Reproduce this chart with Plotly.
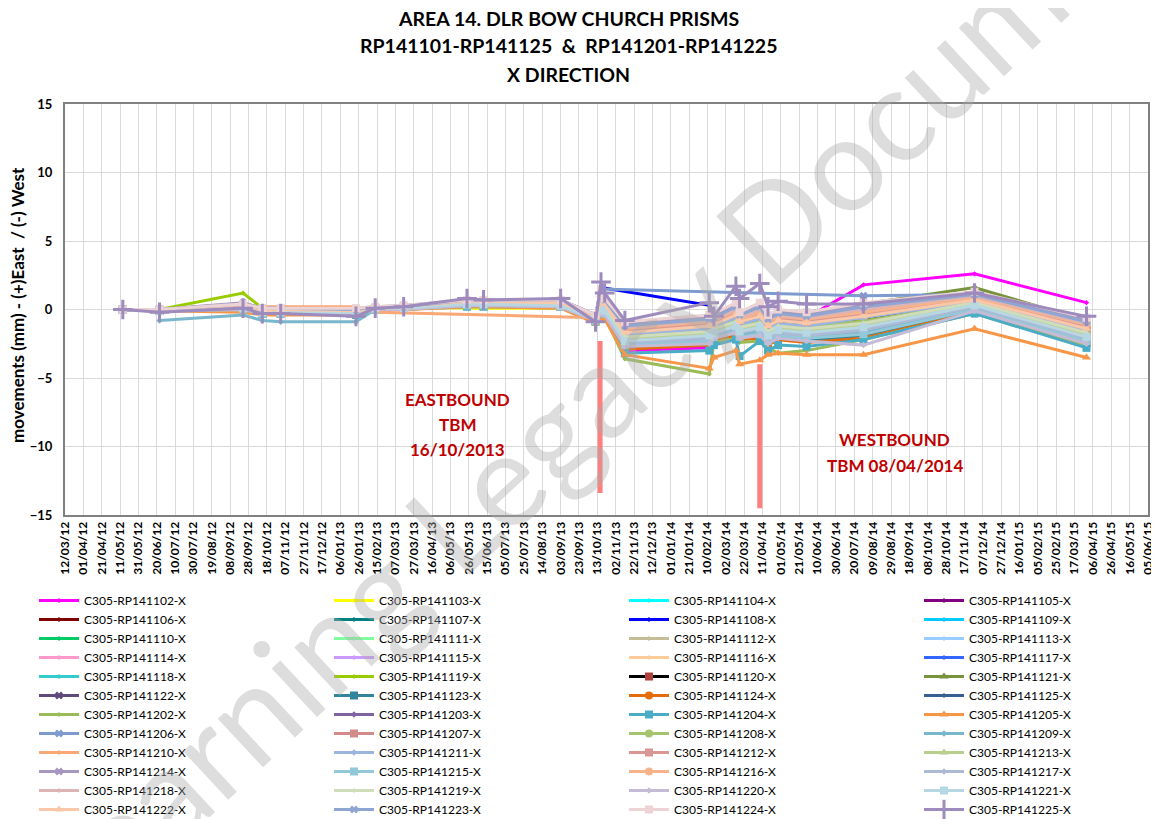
import plotly.graph_objects as go

FONT = "Lato, Carlito, Arial, sans-serif"

dates = ["2012-05-14", "2012-06-23", "2012-09-22", "2012-10-13", "2012-11-02", "2013-01-23",
         "2013-02-13", "2013-03-16", "2013-05-24", "2013-06-11", "2013-09-03", "2013-10-11",
         "2013-10-17", "2013-10-21", "2013-11-12", "2014-02-12", "2014-02-17", "2014-03-13",
         "2014-03-17", "2014-04-08", "2014-04-17", "2014-04-28", "2014-05-29", "2014-07-30",
         "2014-11-28", "2015-03-30"]

rp141102 = [0, -0.1, 0.2, -0.1, -0.1, -0.2, 0.1, 0.1, 0.5, 0.5, 0.4, -0.6, 0.3, -0.2, -3.0, -2.8, -2.6, -2.0, -2.2, -1.8, -1.6, -1.0, -0.6, 1.8, 2.6, 0.5]
rp141103 = [0, 0.0, 0.3, 0.0, 0.0, -0.1, 0.1, 0.2, 0.1, 0.1, 0.1, -0.5, 0.9, 0.4, -1.5, -1.1, -0.9, -0.2, -0.8, -0.3, -1.1, -0.7, -0.9, -0.3, 0.8, -1.2]
rp141104 = [0, -0.1, 0.1, -0.2, -0.2, -0.2, 0.1, 0.1, 0.4, 0.4, 0.3, -0.7, 0.1, -0.1, -2.3, -1.9, -1.7, -1.2, -1.6, -1.3, -1.9, -1.5, -1.7, -1.3, 0.3, -2.0]
rp141105 = [0, -0.1, 0.1, -0.2, -0.2, -0.3, 0.0, 0.1, 0.4, 0.3, 0.3, -0.8, -0.1, -0.2, -2.5, -2.2, -1.9, -1.5, -1.9, -1.6, -2.2, -1.8, -2.0, -1.6, 0.1, -2.2]
rp141106 = [0, 0.0, 0.2, -0.1, -0.1, -0.1, 0.1, 0.2, 0.5, 0.5, 0.5, -0.6, 0.6, 0.3, -1.8, -1.4, -1.2, -0.6, -1.1, -0.6, -1.4, -1.0, -1.2, -0.6, 0.6, -1.5]
rp141107 = [0, 0.0, 0.3, 0.0, -0.1, -0.1, 0.1, 0.2, 0.6, 0.6, 0.5, -0.5, 0.7, 0.4, -1.7, -1.2, -1.1, -0.4, -0.9, -0.5, -1.2, -0.8, -1.0, -0.5, 0.7, -1.4]
rp141108 = [0, 0.0, 0.2, -0.1, -0.1, -0.1, 0.1, 0.2, 0.5, 0.5, 0.5, -0.5, 1.6, None, None, 0.3, -0.3, 0.2, -0.4, 0.0, -0.6, -0.3, -0.2, 0.3, 1.0, -1.0]
rp141109 = [0, -0.1, 0.1, -0.2, -0.2, -0.2, 0.1, 0.1, 0.4, 0.4, 0.4, -0.7, 0.3, 0.0, -2.1, -1.8, -1.5, -1.0, -1.5, -1.1, -1.8, -1.4, -1.6, -1.1, 0.4, -1.8]
rp141110 = [0, -0.1, 0.2, -0.1, -0.1, -0.2, 0.1, 0.2, 0.5, 0.5, 0.4, -0.6, 0.5, 0.2, -1.9, -1.5, -1.3, -0.7, -1.2, -0.8, -1.5, -1.1, -1.3, -0.8, 0.5, -1.6]
rp141111 = [0, 0.0, 0.2, -0.1, -0.1, -0.1, 0.1, 0.1, 0.5, 0.5, 0.5, -0.6, 0.6, 0.3, -1.8, -1.3, -1.2, -0.5, -1.1, -0.6, -1.3, -0.9, -1.2, -0.6, 0.6, -1.5]
rp141112 = [0, 0.0, 0.3, 0.0, 0.0, 0.0, 0.2, 0.2, 0.6, 0.6, 0.6, -0.5, 1.0, 0.5, -1.4, -0.9, -0.8, -0.1, -0.7, -0.2, -0.9, -0.5, -0.7, -0.2, 0.9, -1.1]
rp141113 = [0, -0.1, 0.2, -0.1, -0.1, -0.2, 0.1, 0.1, 0.5, 0.5, 0.4, -0.6, 0.4, 0.1, -2.0, -1.6, -1.4, -0.9, -1.3, -1.0, -1.6, -1.2, -1.4, -1.0, 0.5, -1.7]
rp141114 = [0, 0.0, 0.3, -0.1, 0.0, -0.1, 0.1, 0.2, 0.6, 0.6, 0.5, -0.5, 0.7, 0.4, -1.7, -1.2, -1.0, -0.4, -1.0, -0.5, -1.2, -0.8, -1.0, -0.5, 0.7, -1.4]
rp141115 = [0, 0.0, 0.3, 0.0, 0.0, -0.1, 0.2, 0.2, 0.6, 0.6, 0.6, -0.5, 0.9, 0.4, -1.5, -1.1, -0.9, -0.3, -0.8, -0.3, -1.1, -0.7, -0.9, -0.3, 0.8, -1.2]
rp141116 = [0, 0.0, 0.4, 0.0, 0.1, 0.0, 0.2, 0.2, 0.6, 0.6, 0.6, -0.4, 1.1, 0.6, -1.3, -0.8, -0.7, 0.0, -0.6, 0.0, -0.8, -0.4, -0.6, 0.0, 1.0, -1.0]
rp141117 = [0, 0.0, 0.4, 0.1, 0.1, 0.0, 0.2, 0.2, 0.7, 0.7, 0.7, -0.4, 1.2, 0.7, -1.2, -0.7, -0.6, 0.2, -0.4, 0.2, -0.7, -0.3, -0.5, 0.2, 1.1, -0.9]
rp141118 = [0, -0.1, 0.1, -0.2, -0.2, -0.3, 0.0, 0.1, 0.4, 0.4, 0.3, -0.7, 0.0, -0.1, -2.4, -2.1, -1.8, -1.3, -1.7, -1.4, -2.1, -1.7, -1.9, -1.4, 0.2, -2.1]
rp141119 = [0, 0.0, 1.2, 0.1, 0.1, 0.1, 0.2, 0.2, 0.3, 0.3, 0.2, -0.7, 0.5, 0.2, -1.9, -1.5, -1.3, -0.7, -1.2, -0.8, -1.5, -1.1, -1.3, -0.8, 0.5, -1.6]
rp141120 = [0, -0.1, 0.2, -0.1, -0.1, -0.1, 0.1, 0.1, 0.5, 0.5, 0.4, -0.6, 0.4, 0.2, -1.2, -0.8, -1.0, -0.6, -1.0, -0.7, -1.2, -0.9, -1.1, -0.6, 0.6, -1.5]
rp141121 = [0, 0.0, 0.3, 0.0, 0.0, 0.0, 0.1, 0.2, 0.4, 0.4, 0.4, -0.5, 1.1, 0.7, -1.2, -0.7, -0.6, 0.1, -0.5, 0.1, -0.7, -0.3, -0.4, 0.4, 1.6, -0.8]
rp141122 = [0, -0.1, 0.0, -0.3, -0.3, -0.3, 0.0, 0.1, 0.3, 0.3, 0.2, -0.8, -0.2, -0.3, -2.6, -2.3, -2.0, -1.6, -2.0, -1.8, -2.3, -1.9, -2.1, -1.8, 0.0, -2.3]
rp141123 = [0, -0.1, 0.0, -0.3, -0.3, -0.3, 0.0, 0.0, 0.3, 0.3, 0.2, -0.8, -0.3, -0.4, -2.8, -2.6, -2.2, -1.8, -2.1, -2.0, -2.5, -2.1, -2.3, -1.9, -0.1, -2.4]
rp141124 = [0, -0.1, 0.0, -0.3, -0.3, -0.4, 0.0, 0.0, 0.3, 0.3, 0.2, -0.8, -0.5, -0.4, -2.9, -2.6, -2.3, -1.9, -2.2, -2.1, -2.6, -2.2, -2.4, -2.1, -0.2, -2.6]
rp141125 = [0, 0.0, 0.2, -0.1, 0.0, -0.1, 0.1, 0.2, 0.6, 0.6, 0.5, -0.5, 0.8, 0.4, -1.6, -1.2, -1.1, -0.4, -0.9, -0.5, -1.2, -0.8, -1.0, -0.5, 0.7, -1.4]
rp141202 = [0, -0.1, 0.0, -0.3, -0.3, -0.4, 0.0, 0.0, 0.2, 0.2, 0.1, -0.9, -0.6, -0.5, -3.6, -4.7, -2.4, -2.1, -2.4, -2.3, -2.8, -3.2, -3.0, -2.2, -0.3, -2.7]
rp141203 = [0, 0.0, 0.4, 0.0, 0.0, 0.0, 0.2, 0.2, 0.7, 0.7, 0.6, -0.5, 1.1, 0.6, -1.3, -0.8, -0.7, 0.0, -0.6, 0.0, -0.8, -0.4, -0.6, 0.0, 1.0, -1.0]
rp141204 = [0, -0.1, 0.0, -0.3, -0.3, -0.4, 0.0, 0.1, 0.2, 0.2, 0.2, -0.9, -0.6, -0.5, -3.2, -3.0, -2.6, -2.2, -3.4, -2.3, -3.0, -2.6, -2.7, -2.2, -0.3, -2.8]
rp141205 = [0, -0.1, -0.2, -0.4, -0.4, -0.4, -0.1, 0.0, 0.2, 0.2, 0.1, -1.0, -0.8, -0.7, -3.3, -4.3, -3.5, -3.0, -4.0, -3.7, -3.3, -3.2, -3.3, -3.3, -1.4, -3.5]
rp141206 = [0, 0.0, 0.2, -0.1, -0.1, -0.1, 0.1, 0.2, 0.5, 0.5, 0.5, -0.5, 1.5, None, None, None, None, None, None, None, None, None, None, 1.0, 1.1, -0.7]
rp141207 = [0, -0.1, 0.2, -0.1, -0.1, -0.2, 0.1, 0.1, 0.5, 0.5, 0.4, -0.6, 0.4, 0.1, -2.0, -1.6, -1.4, -0.8, -1.3, -0.9, -1.6, -1.3, -1.4, -0.9, 0.5, -1.7]
rp141208 = [0, -0.1, 0.2, -0.1, -0.1, -0.1, 0.1, 0.2, 0.5, 0.5, 0.5, -0.6, 0.5, 0.2, -2.0, -1.7, -1.3, -0.7, -1.2, -0.8, -1.5, -1.1, -1.3, -0.9, 0.5, -1.8]
rp141209 = [None, -0.8, -0.4, -0.8, -0.9, -0.9, 0.0, 0.1, 0.3, 0.3, 0.2, -0.8, -0.1, -0.2, -2.5, -2.2, -1.9, -1.5, -1.9, -1.6, -2.2, -1.8, -2.0, -1.6, 0.1, -2.2]
rp141210 = [0, -0.1, 0.1, 0.2, 0.2, 0.2, -0.2, None, None, None, None, -0.6, 0.3, 0.0, -2.2, -1.8, -1.6, -1.1, -1.5, -1.2, -1.8, -1.4, -1.6, -1.2, 0.3, -1.9]
rp141211 = [0, 0.0, 0.2, -0.1, -0.1, -0.1, 0.1, 0.2, 0.5, 0.5, 0.5, -0.6, 0.6, 0.3, -1.8, -1.4, -1.2, -0.6, -1.1, -0.7, -1.4, -1.0, -1.2, -0.6, 0.6, -1.5]
rp141212 = [0, 0.0, 0.3, 0.0, 0.0, -0.1, 0.1, 0.2, 0.6, 0.6, 0.5, -0.5, 0.9, 0.4, -1.5, -1.1, -0.9, -0.3, -0.8, -0.3, -1.1, -0.7, -0.9, -0.3, 0.8, -1.2]
rp141213 = [0, -0.1, 0.1, -0.2, -0.2, -0.2, 0.1, 0.1, 0.4, 0.4, 0.4, -0.7, 0.3, 0.0, -2.1, -1.8, -1.5, -1.0, -1.5, -1.1, -1.8, -1.4, -1.6, -1.1, 0.4, -1.8]
rp141214 = [0, 0.0, 0.5, 0.1, 0.1, 0.0, 0.2, 0.3, 0.7, 0.7, 0.7, -0.4, 1.3, 0.8, -1.1, -0.5, -0.5, 0.4, -0.3, 0.3, -0.5, -0.1, -0.3, 0.3, 1.2, -0.8]
rp141215 = [0, -0.1, 0.0, -0.3, -0.3, -0.3, 0.0, 0.1, 0.3, 0.3, 0.2, -0.8, -0.2, -0.3, -2.6, -2.3, -2.0, -1.6, -2.0, -1.8, -2.3, -1.9, -2.1, -1.8, 0.0, -2.3]
rp141216 = [0, 0.0, 0.3, 0.0, 0.0, 0.0, 0.2, 0.2, 0.6, 0.6, 0.6, -0.5, 1.0, 0.5, -1.4, -0.9, -0.8, -0.1, -0.7, -0.2, -0.9, -0.5, -0.7, -0.2, 0.9, -1.1]
rp141217 = [0, -0.1, 0.1, -0.2, -0.2, -0.3, 0.0, 0.1, 0.4, 0.4, 0.3, -0.7, 0.0, -0.1, -2.4, -2.1, -1.8, -1.3, -1.7, -1.4, -2.1, -1.7, -1.9, -1.5, 0.2, -2.1]
rp141218 = [0, 0.0, 0.4, 0.0, 0.1, 0.0, 0.2, 0.2, 0.6, 0.6, 0.6, -0.4, 1.1, 0.6, -1.3, -0.8, -0.7, 0.0, -0.6, 0.0, -0.8, -0.4, -0.6, 0.0, 1.0, -1.0]
rp141219 = [0, -0.1, 0.2, -0.1, -0.1, -0.2, 0.1, 0.1, 0.5, 0.4, 0.4, -0.6, 0.4, 0.1, -2.0, -1.6, -1.4, -0.9, -1.3, -1.0, -1.6, -1.2, -1.4, -1.0, 0.5, -1.7]
rp141220 = [0, -0.1, 0.0, -0.3, -0.3, -0.3, 0.0, 0.0, 0.3, 0.3, 0.2, -0.8, -0.3, -0.4, -2.7, -2.5, -2.1, -1.7, -2.1, -1.9, -2.5, -2.1, -2.3, -2.6, -0.1, -2.5]
rp141221 = [0, -0.1, 0.1, -0.2, -0.2, -0.2, 0.1, 0.1, 0.4, 0.4, 0.3, -0.7, 0.1, -0.1, -2.3, -1.9, -1.7, -1.2, -1.6, -1.3, -1.9, -1.5, -1.7, -1.3, 0.3, -2.0]
rp141222 = [0, 0.0, 0.3, -0.1, 0.0, -0.1, 0.1, 0.2, 0.6, 0.6, 0.5, -0.5, 0.7, 0.4, -1.7, -1.2, -1.1, -0.4, -0.9, -0.5, -1.2, -0.8, -1.0, -0.5, 0.7, -1.4]
rp141223 = [0, 0.0, 0.4, 0.1, 0.1, 0.0, 0.2, 0.2, 0.7, 0.7, 0.7, -0.4, 1.2, 0.7, -1.2, -0.7, -0.6, 0.2, -0.4, 0.2, -0.7, -0.3, -0.5, 0.2, 1.1, -0.9]
rp141224 = [0, 0.0, 0.4, 0.1, 0.1, 0.1, 0.2, 0.3, 0.7, 0.7, 0.7, -0.4, 1.5, 0.8, -0.9, -0.4, -0.3, 0.5, -0.2, 0.5, -0.4, 0.0, -0.2, 0.5, 1.3, -0.6]
rp141225 = [0, -0.2, 0.1, -0.3, -0.3, -0.5, 0.1, 0.2, 0.8, 0.7, 0.8, -0.9, 2.0, 1.2, -0.8, 0.5, -0.5, 1.7, 0.8, 1.9, 0.2, 0.6, 0.4, 0.4, 1.2, -0.5]

series_values = [rp141102, rp141103, rp141104, rp141105, rp141106, rp141107, rp141108, rp141109,
                 rp141110, rp141111, rp141112, rp141113, rp141114, rp141115, rp141116, rp141117,
                 rp141118, rp141119, rp141120, rp141121, rp141122, rp141123, rp141124, rp141125,
                 rp141202, rp141203, rp141204, rp141205, rp141206, rp141207, rp141208, rp141209,
                 rp141210, rp141211, rp141212, rp141213, rp141214, rp141215, rp141216, rp141217,
                 rp141218, rp141219, rp141220, rp141221, rp141222, rp141223, rp141224, rp141225]
series_ids = ["141102", "141103", "141104", "141105", "141106", "141107", "141108", "141109",
              "141110", "141111", "141112", "141113", "141114", "141115", "141116", "141117",
              "141118", "141119", "141120", "141121", "141122", "141123", "141124", "141125",
              "141202", "141203", "141204", "141205", "141206", "141207", "141208", "141209",
              "141210", "141211", "141212", "141213", "141214", "141215", "141216", "141217",
              "141218", "141219", "141220", "141221", "141222", "141223", "141224", "141225"]
series_names = ["C305-RP" + s + "-X" for s in series_ids]

colors = ["#FF00FF", "#FFFF00", "#00FFFF", "#800080", "#800000", "#008080", "#0000FF", "#00CCFF",
          "#00CC66", "#80FFA0", "#C4BD97", "#99CCFF", "#FF99CC", "#CC99FF", "#FFCC99", "#3366FF",
          "#33CCCC", "#99CC00", "#000000", "#77933C", "#604A7B", "#31859C", "#E46C0A", "#376092",
          "#9BBB59", "#8064A2", "#4BACC6", "#F79646", "#7E9BD0", "#D38B89", "#A6C46E", "#79B7CC",
          "#F9A775", "#9BB5DE", "#D99694", "#B8CE8D", "#A597C0", "#93C8D8", "#F8B38A", "#AEB9D6",
          "#DDB4B3", "#D0DDBA", "#C5BBD6", "#B7D8E2", "#FAC8A8", "#8FA6D3", "#EDD3D3", "#9E8BBE"]
symbols = ["diamond", "diamond", "diamond", "diamond", "diamond", "diamond", "diamond", "diamond",
           "diamond", "diamond", "diamond", "diamond", "diamond", "diamond", "diamond", "diamond",
           "diamond", "diamond", "square", "triangle-up", "x", "square", "circle", "diamond",
           "diamond", "diamond", "square", "triangle-up", "x", "square", "circle", "diamond",
           "diamond", "diamond", "square", "triangle-up", "x", "square", "circle", "diamond",
           "diamond", "diamond", "diamond", "square", "triangle-up", "x", "square", "cross-thin"]
marker_sizes = [4, 4, 4, 4, 4, 4, 4, 4, 4, 4, 4, 4, 4, 4, 4, 4, 4, 4, 8, 8, 7, 8, 8, 4,
                4, 5, 8, 8, 7, 8, 8, 5, 4, 5, 8, 8, 7, 8, 8, 5, 4, 4, 5, 8, 8, 7, 8, 14]

tbm_dates = ["2013-10-16", "2014-04-08"]
tbm_top = [-2.3, -4.0]
tbm_bottom = [-13.4, -14.5]

title_lines = ["AREA 14. DLR BOW CHURCH PRISMS", "RP141101-RP141125&nbsp;&nbsp;&amp;&nbsp;&nbsp;RP141201-RP141225", "X DIRECTION"]
y_title = "movements (mm) - (+)East&nbsp;&nbsp;/ (-) West"
east_lines = ["EASTBOUND", "TBM", "16/10/2013"]
west_lines = ["WESTBOUND", "TBM 08/04/2014"]

# page has an 8px body margin: figure is sized/positioned to compensate
W, H, OFF = 1151, 811, 8


def px(xp):
    return (xp - 65) / (1148 - 65)


def py(yp):
    return (515 - yp) / 411


fig = go.Figure()

for i, (name, vals) in enumerate(zip(series_names, series_values)):
    col = colors[i]
    sym = symbols[i]
    marker = dict(symbol=sym, size=marker_sizes[i], color=col)
    if sym == "cross-thin":
        marker["line"] = dict(width=3, color=col)
    if name.endswith("141120-X"):
        marker["color"] = "#B0413E"
    leg = "legend" if i % 4 == 0 else "legend%d" % (i % 4 + 1)
    fig.add_trace(go.Scatter(
        x=dates, y=vals, name=name, mode="lines+markers", connectgaps=True,
        line=dict(color=col, width=3), marker=marker, legend=leg,
    ))

for d, t, b in zip(tbm_dates, tbm_top, tbm_bottom):
    fig.add_trace(go.Scatter(x=[d, d], y=[t, b], mode="lines", showlegend=False,
                             line=dict(color="#FF7F7F", width=5), hoverinfo="skip"))

annotations = []
for k, line in enumerate(title_lines):
    annotations.append(dict(text="<b>%s</b>" % line, x=px(568), y=py(18 + 28 * k),
                            xref="paper", yref="paper", showarrow=False, xanchor="center", yanchor="middle",
                            font=dict(family=FONT, size=19.5, color="#000000")))
annotations.append(dict(text="<b>%s</b>" % y_title, x=px(17), y=py(305),
                        xref="paper", yref="paper", showarrow=False, textangle=-90,
                        xanchor="center", yanchor="middle",
                        font=dict(family=FONT, size=17, color="#000000")))
for k, line in enumerate(east_lines):
    annotations.append(dict(text="<b>%s</b>" % line, x="2013-05-14", y=[-6.6, -8.4, -10.2][k],
                            xref="x", yref="y", showarrow=False, xanchor="center", yanchor="middle",
                            font=dict(family=FONT, size=17, color="#C00000")))
for k, line in enumerate(west_lines):
    annotations.append(dict(text="<b>%s</b>" % line, x="2014-09-02", y=[-9.5, -11.35][k],
                            xref="x", yref="y", showarrow=False, xanchor="center", yanchor="middle",
                            font=dict(family=FONT, size=17, color="#C00000")))
annotations.append(dict(text="Learning Legacy Document", x=px(611), y=py(373),
                        xref="paper", yref="paper", showarrow=False, textangle=-43,
                        xanchor="center", yanchor="middle",
                        font=dict(family=FONT, size=131, color="rgba(170,170,170,0.40)")))

legend_common = dict(xref="container", yref="container", xanchor="left", yanchor="top",
                     bgcolor="rgba(0,0,0,0)", font=dict(family=FONT, size=12, color="#000000"),
                     itemwidth=40, traceorder="normal")
lx = [34, 329, 624, 919]
ly = 1 - 578 / H

fig.update_layout(
    width=W, height=H,
    margin=dict(l=65 - OFF, r=W - (1148 - OFF), t=104 - OFF, b=H - (515 - OFF), autoexpand=False),
    paper_bgcolor="white", plot_bgcolor="white",
    font=dict(family=FONT, color="#000000"),
    showlegend=True,
    annotations=annotations,
    legend=dict(x=(lx[0] - OFF) / W, y=ly, **legend_common),
    legend2=dict(x=(lx[1] - OFF) / W, y=ly, **legend_common),
    legend3=dict(x=(lx[2] - OFF) / W, y=ly, **legend_common),
    legend4=dict(x=(lx[3] - OFF) / W, y=ly, **legend_common),
    xaxis=dict(type="date", range=["2012-03-12", "2015-06-05"], tick0="2012-03-12",
               dtick=20 * 86400000, tickformat="%d/%m/%y", tickangle=-90, automargin=False,
               tickfont=dict(family=FONT, size=12, color="#000000", weight="bold"),
               showgrid=True, gridcolor="#D9D9D9", gridwidth=1,
               showline=True, linecolor="#808080", linewidth=2, mirror=True, zeroline=False,
               ticks=""),
    yaxis=dict(range=[-15, 15], dtick=5, automargin=False,
               tickfont=dict(family=FONT, size=13, color="#000000", weight="bold"),
               showgrid=True, gridcolor="#D9D9D9", gridwidth=1, zeroline=False,
               showline=True, linecolor="#808080", linewidth=2, mirror=True, ticks="",
               ticklabelstandoff=8),
)

fig.write_html("out.html")
